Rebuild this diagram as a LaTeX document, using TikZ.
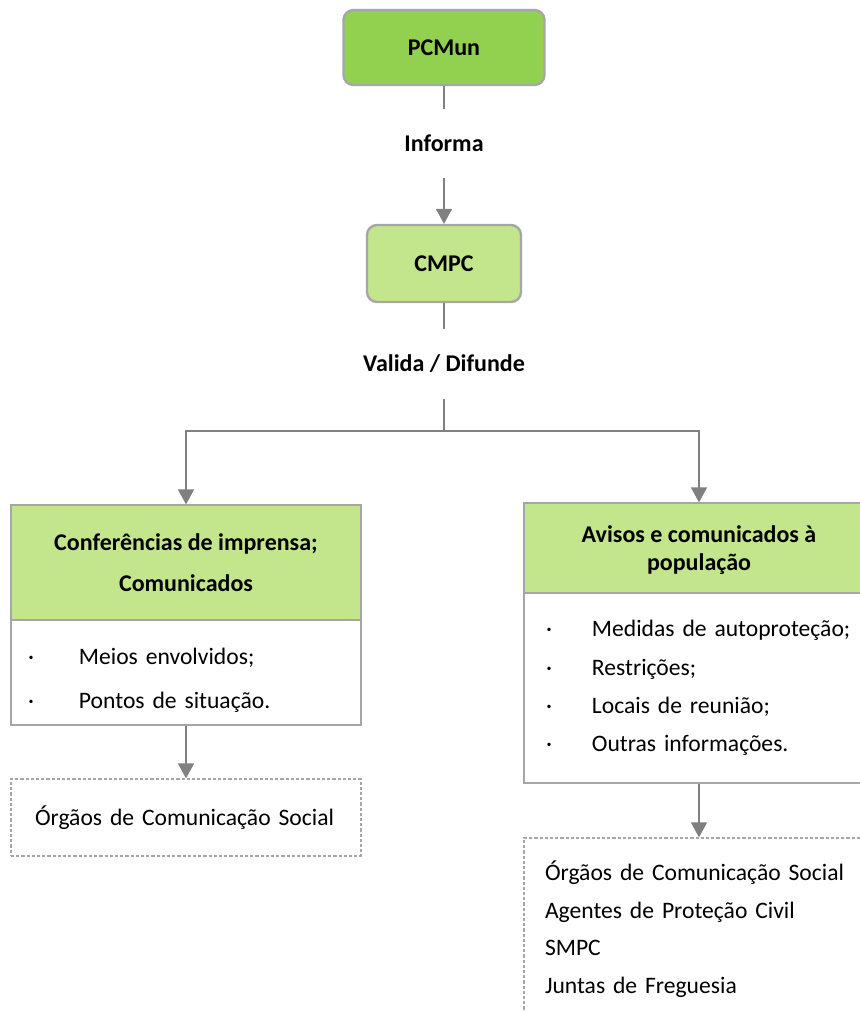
\documentclass[tikz,border=0pt]{standalone}
\usepackage{fontspec}
\setmainfont{Carlito}
\usepackage{tikz}
\usetikzlibrary{arrows.meta,positioning,calc}
\definecolor{PCGreen}{HTML}{92D050}
\definecolor{PCLight}{HTML}{C3E58C}
\definecolor{PCBorder}{HTML}{A6A6A6}
\definecolor{PCLine}{HTML}{808080}
\newcommand{\bitem}[2]{\makebox[#1][l]{\textperiodcentered}#2}

\begin{document}
\begin{tikzpicture}[x=0.5pt, y=-0.5pt,
  font=\fontsize{11.8}{14}\selectfont,
  head/.style={draw=PCBorder, line width=1.2pt, rounded corners=5pt,
               font=\fontsize{12}{14}\selectfont\bfseries},
  title/.style={draw=PCBorder, line width=0.6pt, fill=PCLight,
                minimum width=175pt, align=center, inner sep=0pt},
  items/.style={draw=PCBorder, line width=0.6pt, fill=white,
                minimum width=175pt, align=left, inner ysep=0pt},
  dest/.style={draw=PCBorder, line width=0.6pt, dash pattern=on 1.6pt off 1pt,
               minimum width=175pt, align=left, inner ysep=0pt},
  verb/.style={font=\fontsize{12}{14}\selectfont\bfseries, inner sep=0pt},
  link/.style={draw=PCLine, line width=0.75pt},
  arrow/.style={link, -{Triangle[length=7.5pt, width=8pt]}, color=PCLine}
]
  \useasboundingbox (0,0) rectangle (860,1012);
  \clip (0,0) rectangle (860,1012);

  % top of the chain
  \node[head, fill=PCGreen, minimum width=100.5pt, minimum height=37.5pt]
    (pcmun) at (444,47.5) {PCMun};
  \node[verb, minimum height=34.5pt] (informa) at (444,143.5) {Informa};
  \node[head, fill=PCLight, minimum width=77pt, minimum height=38.5pt]
    (cmpc) at (444,263.5) {CMPC};
  \node[verb, minimum height=35pt] (valida) at (444,364) {Valida / Difunde};
  \coordinate (split) at (444,431);
  \draw[link] (pcmun) -- (informa);
  \draw[arrow] (informa) -- (cmpc);
  \draw[link] (cmpc) -- (valida);
  \draw[link] (valida) -- (split);

  % press branch
  \node[title, minimum height=57.5pt,
        font=\fontsize{12}{20.5}\selectfont\bfseries]
    (conf) at (186,562.5) {Conferências de imprensa;\\Comunicados};
  \node[items, minimum height=52.5pt, inner xsep=8.5pt, text width=158pt,
        font=\fontsize{11.8}{22}\selectfont]
    (confItems) at (186,672.5) {\rule{0pt}{15.5pt}\bitem{25.5pt}{Meios envolvidos;}\\
                                \bitem{25.5pt}{Pontos de situação.}};
  \node[dest, minimum height=38.5pt, inner xsep=12pt, text width=151pt]
    (confOcs) at (186,817.5) {Órgãos de Comunicação Social};
  \draw[arrow] (split) -| (conf);
  \draw[arrow] (confItems.south) -- (confOcs.north);

  % population branch
  \node[title, minimum height=45pt,
        font=\fontsize{12}{14}\selectfont\bfseries]
    (avisos) at (699,548) {\rule{0pt}{11pt}Avisos e comunicados à\\população};
  \node[items, minimum height=95pt, inner xsep=11pt, text width=153pt,
        font=\fontsize{11.8}{19.2}\selectfont]
    (avisosItems) at (699,688) {\bitem{23pt}{Medidas de autoproteção;}\\
                                \bitem{23pt}{Restrições;}\\
                                \bitem{23pt}{Locais de reunião;}\\
                                \bitem{23pt}{Outras informações.}};
  \node[dest, minimum height=91pt, inner xsep=10.5pt, text width=154pt,
        font=\fontsize{11.8}{18.8}\selectfont]
    (avisosDest) at (699,929) {Órgãos de Comunicação Social\\
                               Agentes de Proteção Civil\\
                               SMPC\\
                               Juntas de Freguesia};
  \draw[arrow] (split) -| (avisos);
  \draw[arrow] (avisosItems.south) -- (avisosDest.north);
\end{tikzpicture}
\end{document}
